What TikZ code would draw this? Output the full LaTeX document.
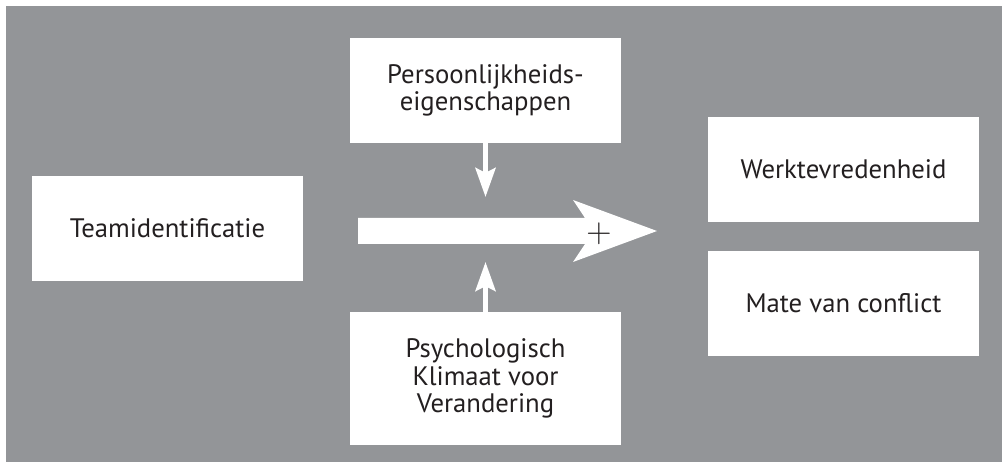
\documentclass[tikz,border=0pt]{standalone}
\usepackage{fontspec}
\setmainfont{PT Sans}
\usetikzlibrary{arrows.meta}
\definecolor{bggray}{RGB}{147,149,152}
\definecolor{ink}{RGB}{35,31,32}
\begin{document}
\begin{tikzpicture}[
  box/.style={fill=white, minimum width=6.775cm, minimum height=2.625cm, align=center, inner sep=0,
    text=ink, font=\fontsize{19pt}{19.6pt}\selectfont},
  modarrow/.style={white, line width=1.25mm, -{Stealth[length=7.25mm, width=5mm, inset=1.2mm]}}
]
\fill [white] (0, 0) rectangle (25.05, 11.55);
\fill [bggray] (0.15, 0) rectangle (25.05, 11.4);

\node [box] (team) at (4.1875, 5.8375) {Teamidentificatie};
\node [box] (pers) at (12.1375, 9.2875) {Persoonlijkheids-\\eigenschappen};
\node [box, minimum height=3.325cm] (klimaat) at (12.1375, 2.0875) {Psychologisch\\Klimaat voor\\Verandering};
\node [box] (werk) at (21.0875, 7.3125) {Werktevredenheid};
\node [box] (conflict) at (21.0875, 3.9625) {Mate van conflict};

\fill [white] (8.95, 5.45) -- (14.625, 5.45) -- (14.325, 5.0) -- (16.425, 5.775) -- (14.325, 6.55) -- (14.625, 6.1) -- (8.95, 6.1) -- cycle;
\node [text=ink, font=\fontsize{24pt}{24pt}\selectfont, inner sep=0] (plus) at (14.975, 5.71) {$+$};

\coordinate (pershit) at (12.1375, 6.625);
\coordinate (klimaathit) at (12.1375, 5.0);
\draw [modarrow] (pers.south) -- (pershit);
\draw [modarrow] (klimaat.north) -- (klimaathit);
\end{tikzpicture}
\end{document}
